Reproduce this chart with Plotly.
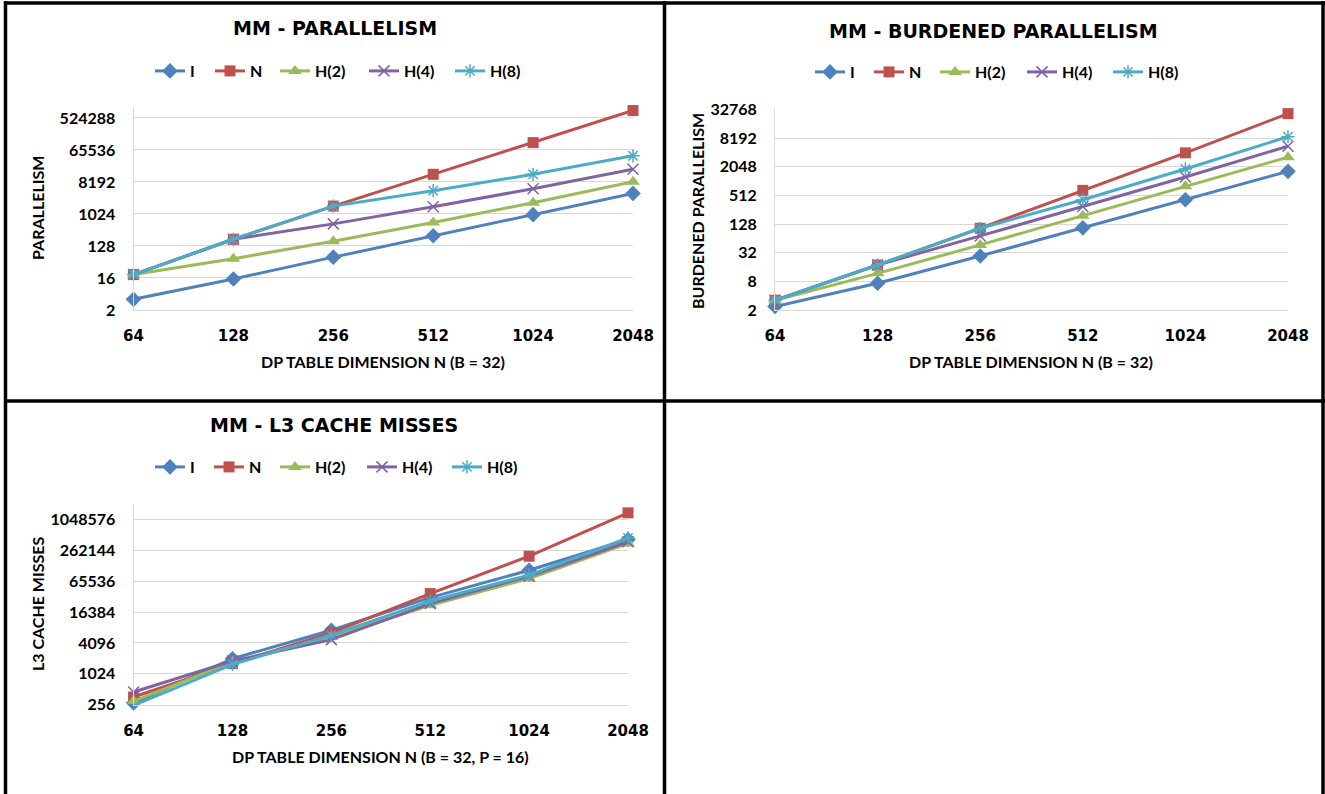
import plotly.graph_objects as go
import math

W, H = 1325, 794

dims = [64, 128, 256, 512, 1024, 2048]
dim_labels = ["64", "128", "256", "512", "1024", "2048"]
series_names = ["I", "N", "H(2)", "H(4)", "H(8)"]

# MM - Parallelism
par_I = [4, 15, 62, 250, 980, 3900]
par_N = [20, 198, 1710, 13500, 106000, 850000]
par_H2 = [20, 56, 174, 590, 2120, 8370]
par_H4 = [20, 198, 538, 1640, 5300, 18700]
par_H8 = [20, 198, 1710, 4650, 13500, 44800]

# MM - Burdened parallelism
bpar_I = [2.4, 7.4, 27.5, 107, 416, 1640]
bpar_N = [3.25, 17.8, 105, 654, 4000, 26600]
bpar_H2 = [3.25, 11.9, 47, 191, 794, 3250]
bpar_H4 = [3.25, 17.8, 72.5, 301, 1250, 5520]
bpar_H8 = [3.25, 17.8, 105, 416, 1840, 8700]

# MM - L3 cache misses
l3_I = [276, 2020, 7230, 31400, 107000, 426000]
l3_N = [362, 1620, 6420, 37600, 201000, 1410000]
l3_H2 = [302, 1750, 5360, 22300, 73900, 356000]
l3_H4 = [452, 1820, 4760, 24000, 82000, 384000]
l3_H8 = [249, 1570, 5790, 27000, 86000, 459000]

ticks_par = [2, 16, 128, 1024, 8192, 65536, 524288]
ticks_bpar = [2, 8, 32, 128, 512, 2048, 8192, 32768]
ticks_l3 = [256, 1024, 4096, 16384, 65536, 262144, 1048576]

colors = ["#4F81BD", "#C0504D", "#9BBB59", "#8064A2", "#4BACC6"]
symbols = ["diamond", "square", "triangle-up", "x-thin-open", "asterisk-open"]
msizes = [12, 11, 12, 11, 11]

def px(x):
    return x / W

def py(y):
    return 1 - y / H

fig = go.Figure()

charts = [
    dict(data=[par_I, par_N, par_H2, par_H4, par_H8], xa="x", ya="y",
         leg_x=[153, 213, 278, 367, 453], leg_y=71),
    dict(data=[bpar_I, bpar_N, bpar_H2, bpar_H4, bpar_H8], xa="x2", ya="y2",
         leg_x=[813, 872, 938, 1025, 1111], leg_y=72),
    dict(data=[l3_I, l3_N, l3_H2, l3_H4, l3_H8], xa="x3", ya="y3",
         leg_x=[153, 212, 278, 365, 450], leg_y=467),
]

leg_font = dict(family="Lato", size=16, color="#000000", weight="bold")
leg_n = 0
for c in charts:
    for i, name in enumerate(series_names):
        leg_n += 1
        key = "legend" if leg_n == 1 else f"legend{leg_n}"
        mk = dict(symbol=symbols[i], size=msizes[i], color=colors[i])
        if "open" in symbols[i]:
            mk["line"] = dict(color=colors[i], width=1.5)
        else:
            mk["line"] = dict(width=0)
        fig.add_trace(go.Scatter(
            x=dims, y=c["data"][i], name=name, mode="lines+markers",
            line=dict(color=colors[i], width=3), marker=mk,
            xaxis=c["xa"], yaxis=c["ya"], legend=key, cliponaxis=False,
        ))
        fig.update_layout({key: dict(orientation="h", x=px(c["leg_x"][i] - 3), y=py(c["leg_y"]),
                                     xanchor="left", yanchor="middle", font=leg_font,
                                     bgcolor="rgba(0,0,0,0)", borderwidth=0)})

tick_font_y = dict(family="Lato", size=16, color="#000000", weight="bold")
tick_font_x = dict(family="DejaVu Sans", size=15, color="#000000", weight="bold")
grid = "#D9D9D9"
EPS = 1e-6

def xaxis(domain, anchor):
    return dict(domain=domain, anchor=anchor, type="log", automargin=False,
                range=[math.log10(dims[0]) - EPS, math.log10(dims[-1]) + EPS],
                tickvals=dims, ticktext=dim_labels, showgrid=False,
                showline=True, linecolor=grid, linewidth=1, ticks="",
                tickfont=tick_font_x, ticklabelstandoff=12, zeroline=False)

def yaxis(domain, anchor, lo, hi, tv):
    return dict(domain=domain, anchor=anchor, type="log", automargin=False,
                range=[math.log10(lo), math.log10(hi)],
                tickvals=tv, ticktext=[str(v) for v in tv],
                showgrid=True, gridcolor=grid, gridwidth=1,
                showline=True, linecolor=grid, linewidth=1, ticks="",
                tickfont=tick_font_y, ticklabelstandoff=14, zeroline=False)

fig.update_layout(
    template="none",
    width=W, height=H, margin=dict(l=0, r=0, t=0, b=0, pad=0, autoexpand=False),
    paper_bgcolor="white", plot_bgcolor="white",
    xaxis=xaxis([px(133.5), px(633)], "y"),
    yaxis=yaxis([py(310), py(107.3)], "x", 2, 2 ** 20, ticks_par),
    xaxis2=xaxis([px(775), px(1288)], "y2"),
    yaxis2=yaxis([py(310.3), py(109.3)], "x2", 2, 32768, ticks_bpar),
    xaxis3=xaxis([px(133.6), px(628)], "y3"),
    yaxis3=yaxis([py(704.7), py(504)], "x3", 256, 2 ** 21, ticks_l3),
    showlegend=True,
)

def ann(text, x, y, size, family="Lato", angle=0):
    fig.add_annotation(text=text, x=px(x), y=py(y), xref="paper", yref="paper",
                       showarrow=False, textangle=angle, xanchor="center", yanchor="middle",
                       font=dict(family=family, size=size, color="#000000", weight="bold"))

ann("MM - PARALLELISM", 335, 28, 19, "DejaVu Sans")
ann("MM - BURDENED PARALLELISM", 993, 31, 19, "DejaVu Sans")
ann("MM - L3 CACHE MISSES", 334, 425, 19, "DejaVu Sans")

ann("DP TABLE DIMENSION N (B = 32)", 383, 361, 16)
ann("DP TABLE DIMENSION N (B = 32)", 1031, 361, 16)
ann("DP TABLE DIMENSION N (B = 32, P = 16)", 380, 756, 16)

ann("PARALLELISM", 37, 208, 16, angle=-90)
ann("BURDENED PARALLELISM", 697, 211, 16, angle=-90)
ann("L3 CACHE MISSES", 37, 604, 16, angle=-90)

# panel borders
def hline(y, x0, x1):
    fig.add_shape(type="line", xref="paper", yref="paper", x0=px(x0), x1=px(x1),
                  y0=py(y), y1=py(y), line=dict(color="black", width=3.5))

def vline(x, y0, y1):
    fig.add_shape(type="line", xref="paper", yref="paper", x0=px(x), x1=px(x),
                  y0=py(y0), y1=py(y1), line=dict(color="black", width=3.5))

hline(3, 4, 1325)
hline(401, 4, 1325)
vline(5.5, 1, 794)
vline(664.5, 1, 794)
vline(1323, 1, 794)

fig.write_html("out.html", config={"displayModeBar": False},
               post_script="document.body.style.margin='0';document.body.style.overflow='hidden';")
